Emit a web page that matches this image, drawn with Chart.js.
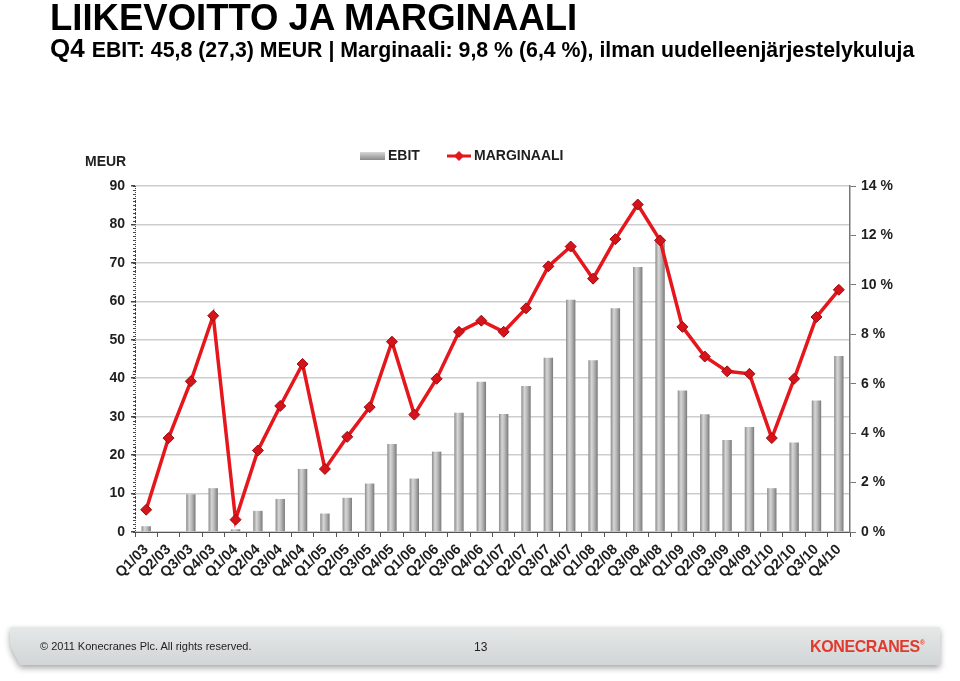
<!DOCTYPE html>
<html>
<head>
<meta charset="utf-8">
<script src="https://cdn.jsdelivr.net/npm/chart.js@4.4.1/dist/chart.umd.min.js"></script>
<style>
    body { margin: 0; background: #fff; font-family: "Liberation Sans", Arial, sans-serif; }
    #page { position: relative; width: 960px; height: 681px; overflow: hidden; }
    #chart { position: absolute; left: 0; top: 0; }
    .title { position: absolute; left: 50px; top: 0px; font-size: 36.5px; line-height: 36px; font-weight: 900; color: #000; white-space: nowrap; }
    .subtitle { position: absolute; left: 50px; top: 36px; font-size: 21.3px; line-height: 25px; font-weight: bold; color: #000; white-space: nowrap; }
    .subtitle .q { font-size: 26px; margin-right: 7px; }
    .meur { position: absolute; left: 85px; top: 153px; font-size: 14px; font-weight: bold; color: #222; }
    .band-wrap { position: absolute; left: 10px; top: 627px; width: 930px; height: 38px; filter: drop-shadow(0 3px 3px rgba(0,0,0,0.35)); }
    .band { width: 100%; height: 100%; background: linear-gradient(#e6e8e8, #d2d5d5); clip-path: polygon(0 0, 100% 0, 100% 100%, 10px 100%, 2px 60%, 0 40%); }
    .copy { position: absolute; left: 40px; top: 640px; font-size: 11px; color: #222; }
    .pageno { position: absolute; left: 474px; top: 640px; font-size: 12px; color: #222; }
    .logo { position: absolute; left: 810px; top: 637px; font-size: 17px; font-weight: bold; color: #e03a2e; letter-spacing: -0.4px; transform: scaleX(0.94); transform-origin: left; }
    .logo sup { font-size: 7px; }
</style>
</head>
<body>
<div id="page">
    <canvas id="chart" width="960" height="681"></canvas>
    <div class="title">LIIKEVOITTO JA MARGINAALI</div>
    <div class="subtitle"><span class="q">Q4</span>EBIT: 45,8 (27,3) MEUR | Marginaali: 9,8 % (6,4 %), ilman uudelleenjärjestelykuluja</div>
    <div class="meur">MEUR</div>
    <div class="band-wrap"><div class="band"></div></div>
    <div class="copy">© 2011 Konecranes Plc. All rights reserved.</div>
    <div class="pageno">13</div>
    <div class="logo">KONECRANES<sup>®</sup></div>
</div>
<script>
const quarters = [
    'Q1/03', 'Q2/03', 'Q3/03', 'Q4/03', 'Q1/04', 'Q2/04', 'Q3/04', 'Q4/04',
    'Q1/05', 'Q2/05', 'Q3/05', 'Q4/05', 'Q1/06', 'Q2/06', 'Q3/06', 'Q4/06',
    'Q1/07', 'Q2/07', 'Q3/07', 'Q4/07', 'Q1/08', 'Q2/08', 'Q3/08', 'Q4/08',
    'Q1/09', 'Q2/09', 'Q3/09', 'Q4/09', 'Q1/10', 'Q2/10', 'Q3/10', 'Q4/10'
]

const ebit = [
    1.5, 0.2, 9.8, 11.4, 0.7, 5.5, 8.6, 16.4,
    4.8, 8.9, 12.6, 22.9, 13.9, 20.9, 31.0, 39.1,
    30.7, 38.0, 45.3, 60.4, 44.7, 58.2, 68.9, 75.6,
    36.8, 30.6, 23.9, 27.3, 11.4, 23.3, 34.2, 45.8
]

const marginaali = [
    0.9, 3.8, 6.1, 8.75, 0.5, 3.3, 5.1, 6.8,
    2.55, 3.85, 5.05, 7.7, 4.75, 6.2, 8.1, 8.55,
    8.1, 9.05, 10.75, 11.55, 10.25, 11.85, 13.25, 11.8,
    8.3, 7.1, 6.5, 6.4, 3.8, 6.2, 8.7, 9.8
]

const legendItems = ['EBIT', 'MARGINAALI']

const tickFont = { family: 'Liberation Sans', size: 14, weight: 'bold' }
const xTickFont = { family: 'Liberation Sans', size: 14.5, weight: 'bold' }
const textColor = '#1e1e1e'
const gridColor = '#cdcdcd'
const red = '#e5161c'

const barFill = (ctx) => {
    const chart = ctx.chart
    const x = chart.scales && chart.scales.x
    if (!x || ctx.type !== 'data') return '#a0a0a0'
    const cx = x.getPixelForValue(ctx.dataIndex)
    if (!isFinite(cx)) return '#a0a0a0'
    const g = chart.ctx.createLinearGradient(cx - 5, 0, cx + 5, 0)
    g.addColorStop(0, '#848484')
    g.addColorStop(0.35, '#d6d6d6')
    g.addColorStop(0.6, '#b8b8b8')
    g.addColorStop(1, '#747474')
    return g
}

// dotted left axis with small minor ticks, like the slide
const leftAxis = {
    id: 'leftAxis',
    beforeDatasetsDraw(chart) {
        const c = chart.ctx
        const a = chart.chartArea
        const y = chart.scales.y
        c.save()
        c.strokeStyle = '#444'
        c.lineWidth = 1
        for (let v = 0; v <= 90; v += 1) {
            const py = Math.round(y.getPixelForValue(v)) + 0.5
            c.beginPath()
            c.moveTo(a.left - 2, py)
            c.lineTo(a.left + 1, py)
            c.stroke()
        }
        c.setLineDash([1, 1])
        c.beginPath()
        c.moveTo(a.left + 0.5, a.top)
        c.lineTo(a.left + 0.5, a.bottom)
        c.stroke()
        c.restore()
    }
}

const legendRow = {
    id: 'legendRow',
    afterDraw(chart) {
        const c = chart.ctx
        c.save()
        c.font = 'bold 14px "Liberation Sans"'
        c.textBaseline = 'middle'
        const y = 156
        const g = c.createLinearGradient(0, y - 4, 0, y + 4)
        g.addColorStop(0, '#d8d8d8')
        g.addColorStop(1, '#8a8a8a')
        c.fillStyle = g
        c.fillRect(360, y - 4, 25, 8)
        c.fillStyle = textColor
        c.fillText(legendItems[0], 388, y)
        c.strokeStyle = red
        c.lineWidth = 3
        c.beginPath()
        c.moveTo(447, y)
        c.lineTo(471, y)
        c.stroke()
        c.fillStyle = red
        c.beginPath()
        c.moveTo(459, y - 5)
        c.lineTo(464, y)
        c.lineTo(459, y + 5)
        c.lineTo(454, y)
        c.closePath()
        c.fill()
        c.fillStyle = textColor
        c.fillText(legendItems[1], 474, y)
        c.restore()
    }
}

new Chart(document.getElementById('chart').getContext('2d'), {
    data: {
        labels: quarters,
        datasets: [{
            type: 'line',
            label: legendItems[1],
            data: marginaali,
            yAxisID: 'y1',
            borderColor: red,
            borderWidth: 3.5,
            pointStyle: 'rectRot',
            pointRadius: 5.5,
            pointBackgroundColor: '#d4141a',
            pointBorderColor: '#9a0c10',
            pointBorderWidth: 1,
            tension: 0,
            order: 0
        },
        {
            type: 'bar',
            label: legendItems[0],
            data: ebit,
            yAxisID: 'y',
            backgroundColor: barFill,
            categoryPercentage: 1,
            barPercentage: 0.42,
            order: 1
        }]
    },
    options: {
        responsive: false,
        animation: false,
        layout: { padding: { top: 186, left: 0, right: 0, bottom: 0 } },
        plugins: {
            legend: { display: false },
            tooltip: { enabled: false }
        },
        scales: {
            x: {
                offset: true,
                grid: {
                    offset: true,
                    drawOnChartArea: false,
                    color: '#555',
                    tickLength: 5
                },
                border: { color: '#555', width: 1 },
                ticks: {
                    font: xTickFont,
                    color: textColor,
                    minRotation: 45,
                    maxRotation: 45,
                    autoSkip: false,
                    padding: 4
                },
                afterFit: (s) => { s.height = 149 }
            },
            y: {
                position: 'left',
                min: 0,
                max: 90,
                ticks: {
                    stepSize: 10,
                    font: tickFont,
                    color: textColor,
                    padding: 6
                },
                grid: {
                    color: gridColor,
                    lineWidth: 1.5,
                    tickLength: 4,
                    tickColor: '#444'
                },
                border: { display: false },
                afterFit: (s) => { s.width = 135 }
            },
            y1: {
                position: 'right',
                min: 0,
                max: 14,
                ticks: {
                    stepSize: 2,
                    font: tickFont,
                    color: textColor,
                    padding: 5,
                    callback: (v) => v + ' %'
                },
                grid: {
                    drawOnChartArea: false,
                    color: '#777',
                    tickLength: 6
                },
                border: { color: '#777', width: 1.5 },
                afterFit: (s) => { s.width = 110 }
            }
        }
    },
    plugins: [leftAxis, legendRow]
})
</script>
</body>
</html>
